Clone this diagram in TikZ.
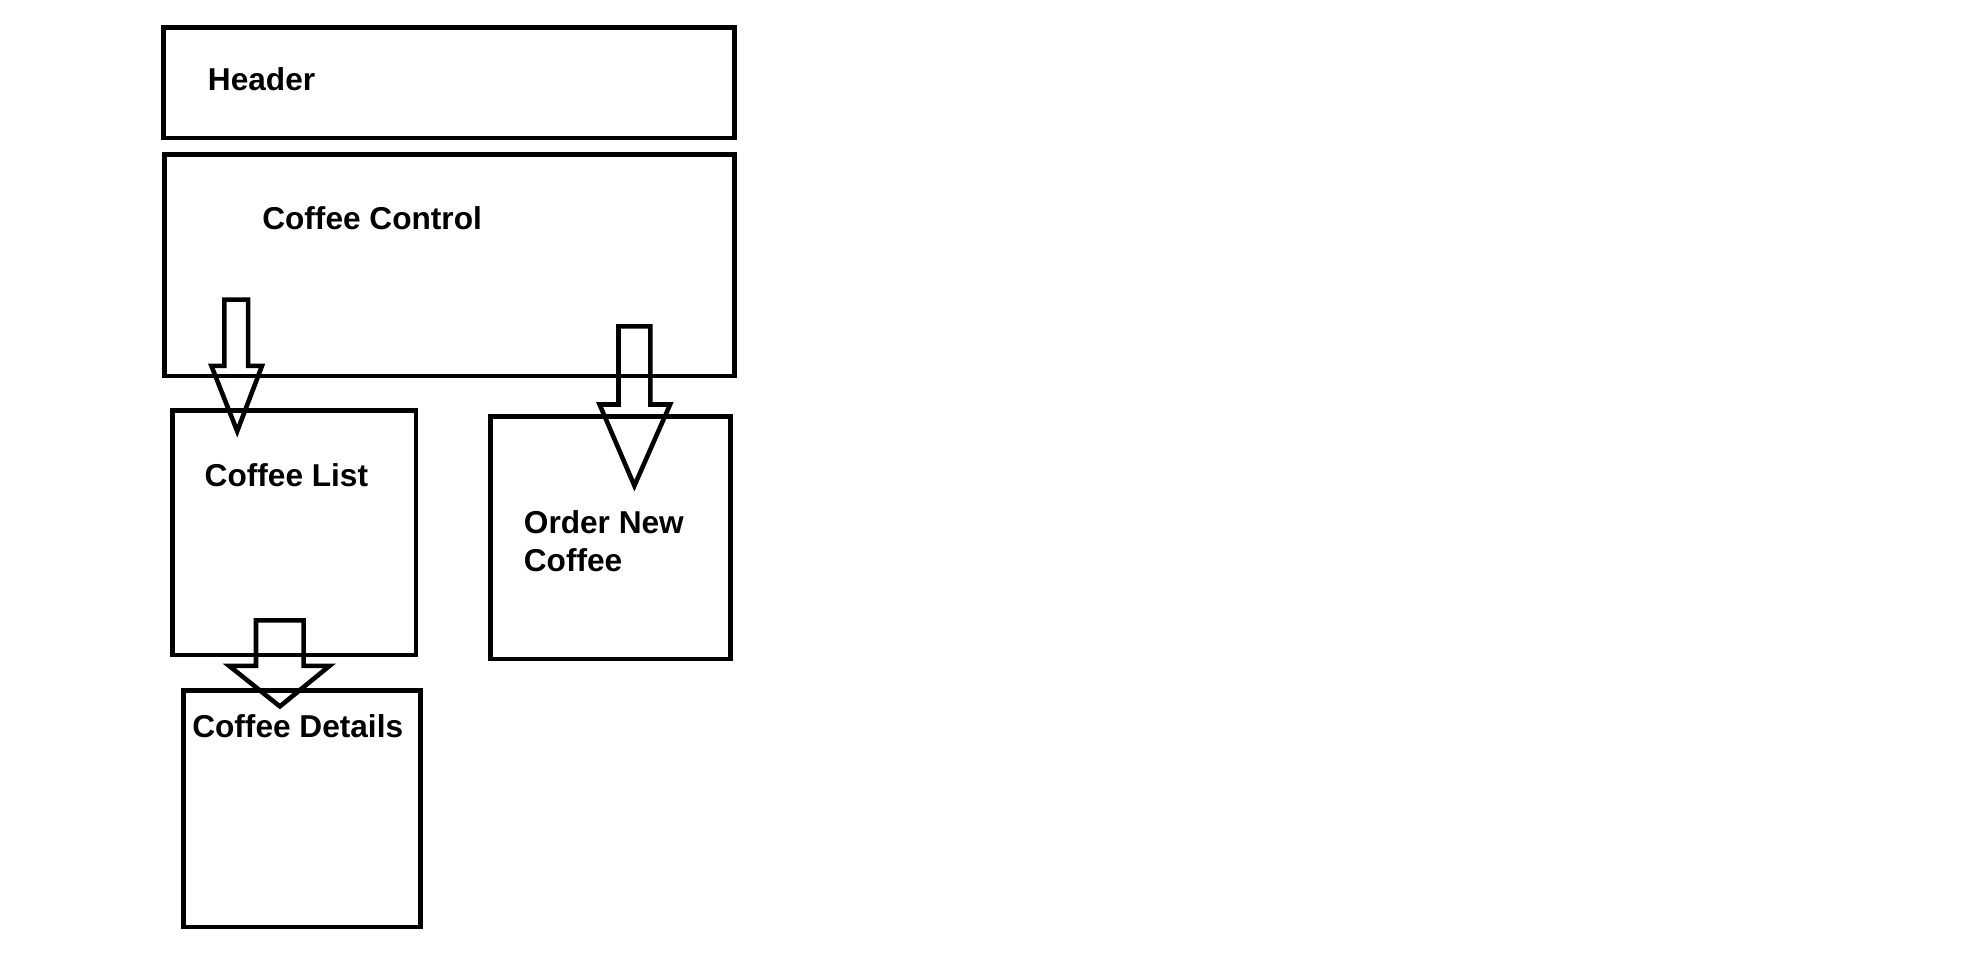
\documentclass[tikz,border=0pt]{standalone}
\usepackage{fontspec}
\setmainfont{Liberation Sans}
\begin{document}
\begin{tikzpicture}[line width=1.3pt,
    box/.style={draw, rectangle, inner sep=0pt},
    lbl/.style={inner sep=0pt, anchor=west, align=left, font=\fontsize{9}{10.8}\selectfont\bfseries}]
                \useasboundingbox (0,0) rectangle (19.68,-9.68);
                \node[box, minimum width=5.708cm, minimum height=1.107cm] (header) at (4.491,-0.827) {};
                \node[box, minimum width=5.698cm, minimum height=2.211cm] (control) at (4.496,-2.653) {};
                \node[box, minimum width=2.433cm, minimum height=2.446cm] (list) at (2.943,-5.327) {};
                \node[box, minimum width=2.403cm, minimum height=2.425cm] (order) at (6.106,-5.377) {};
                \node[box, minimum width=2.367cm, minimum height=2.364cm] (details) at (3.020,-8.088) {};
                
                \node[lbl] (headertext) at (2.057,-0.797) {Header};
                \node[lbl] (controltext) at (2.600,-2.184) {Coffee Control};
                \node[lbl] (listtext) at (2.024,-4.748) {Coffee List};
                \node[lbl] (ordertext) at (5.216,-5.411) {Order New\\Coffee};
                \node[lbl] (detailstext) at (1.900,-7.263) {Coffee Details};
                
                \draw (2.243,-2.996) -- (2.481,-2.996) -- (2.481,-3.659) -- (2.620,-3.659) -- (2.372,-4.312) -- (2.114,-3.659) -- (2.243,-3.659) -- cycle;
                \draw (6.185,-3.263) -- (6.503,-3.263) -- (6.503,-4.045) -- (6.701,-4.045) -- (6.344,-4.857) -- (5.996,-4.045) -- (6.185,-4.045) -- cycle;
                \draw (2.560,-6.203) -- (3.036,-6.203) -- (3.036,-6.659) -- (3.295,-6.659) -- (2.799,-7.064) -- (2.292,-6.659) -- (2.560,-6.659) -- cycle;
            \end{tikzpicture}
\end{document}
